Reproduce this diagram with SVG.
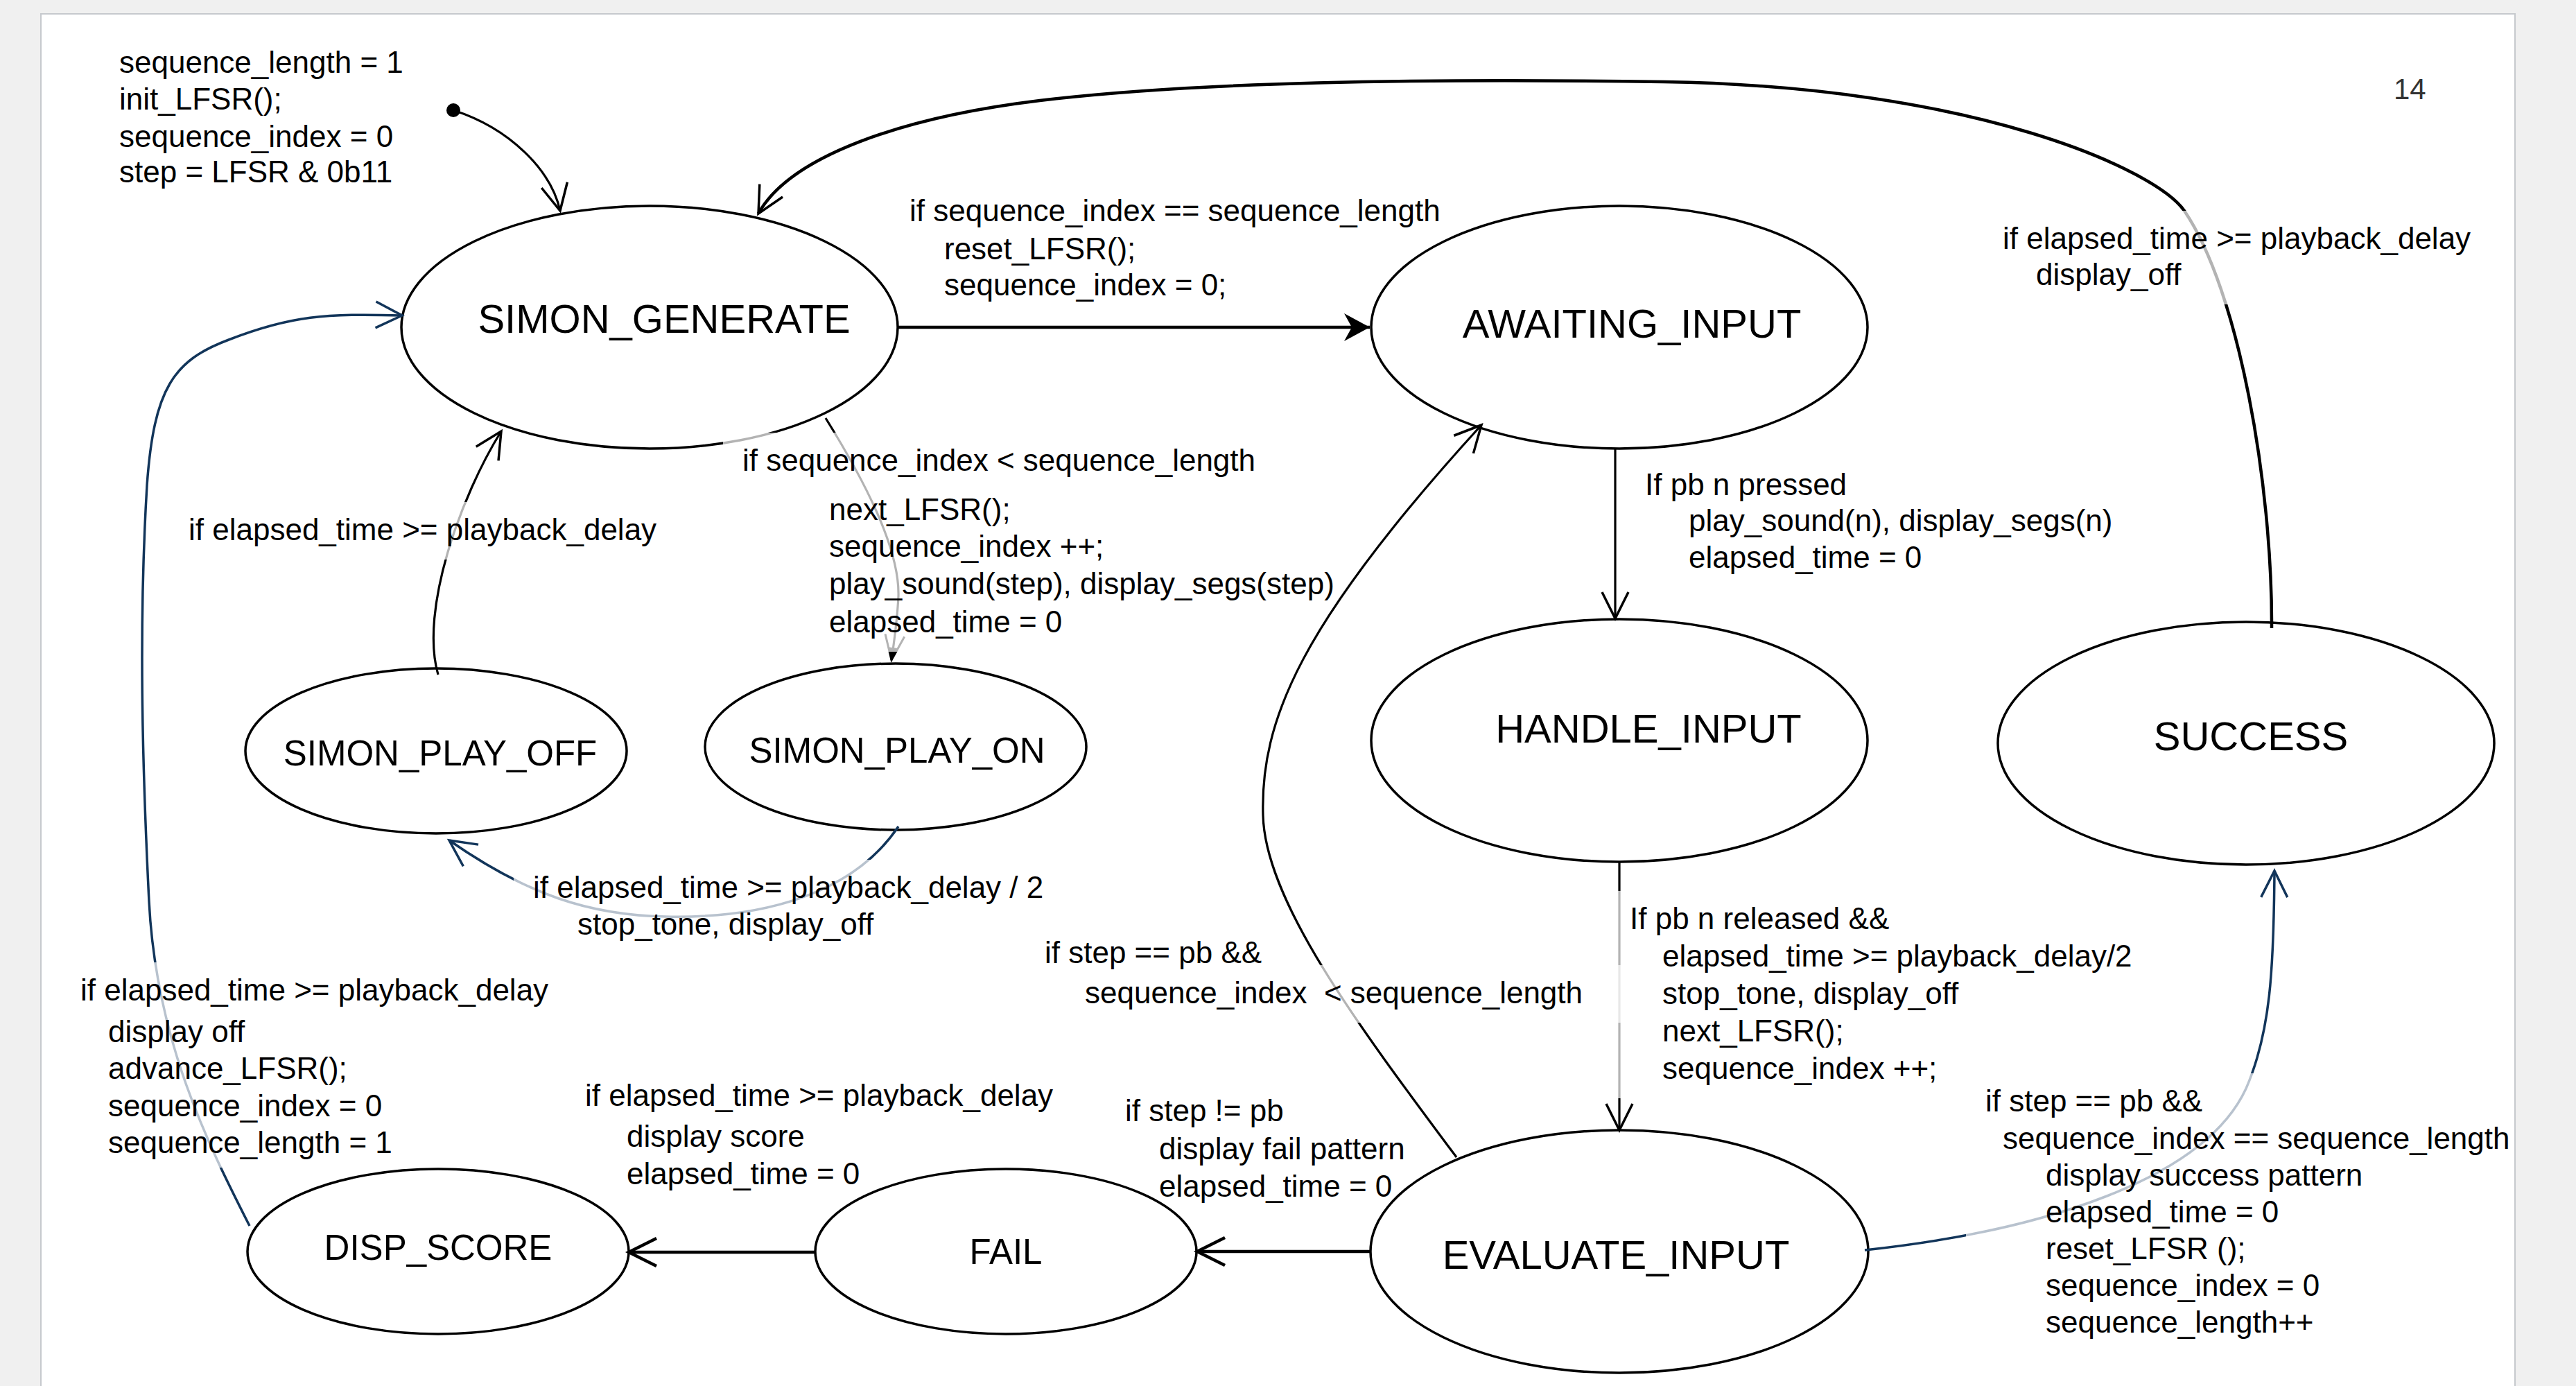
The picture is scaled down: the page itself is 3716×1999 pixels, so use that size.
<svg xmlns="http://www.w3.org/2000/svg" width="3716" height="1999" viewBox="0 0 3716 1999">
<defs>
<style>
.node{fill:#fff;stroke:#000;stroke-width:3.5}
.nt{font-family:"Liberation Sans",Arial,sans-serif;font-size:58px;fill:#000;text-anchor:middle}
.ns{font-family:"Liberation Sans",Arial,sans-serif;font-size:51px;fill:#000;text-anchor:middle}
.lt{font-family:"Liberation Sans",Arial,sans-serif;font-size:44px;fill:#000}
.e{fill:none;stroke:#000;stroke-width:3.2}
.ek{fill:none;stroke:#000;stroke-width:4.5}
.en{fill:none;stroke:#12355a;stroke-width:3.5}
.lb{fill:#fff;fill-opacity:0.7}
</style>
<marker id="vb" markerUnits="userSpaceOnUse" markerWidth="60" markerHeight="60" refX="0" refY="0" orient="auto" overflow="visible">
<path d="M-38,-19 L0,0 L-38,19" fill="none" stroke="#000" stroke-width="3.5"/>
</marker>
<marker id="vk" markerUnits="userSpaceOnUse" markerWidth="60" markerHeight="60" refX="0" refY="0" orient="auto" overflow="visible">
<path d="M-40,-20 L0,0 L-40,20" fill="none" stroke="#000" stroke-width="4.5"/>
</marker>
<marker id="vn" markerUnits="userSpaceOnUse" markerWidth="60" markerHeight="60" refX="0" refY="0" orient="auto" overflow="visible">
<path d="M-38,-19 L0,0 L-38,19" fill="none" stroke="#12355a" stroke-width="3.5"/>
</marker>
<marker id="fb" markerUnits="userSpaceOnUse" markerWidth="60" markerHeight="60" refX="0" refY="0" orient="auto" overflow="visible">
<path d="M0,0 L-37,-20 L-26,0 L-37,20 Z" fill="#000"/>
</marker>
<marker id="tb" markerUnits="userSpaceOnUse" markerWidth="60" markerHeight="60" refX="0" refY="0" orient="auto" overflow="visible">
<path d="M0,0 L-18,-7 L-18,7 Z" fill="#000"/>
<path d="M-36,-14 L0,0 L-36,14" fill="none" stroke="#000" stroke-width="3"/>
</marker>
</defs>
<rect x="0" y="0" width="3716" height="1999" fill="#f0f0f0"/>
<rect x="59" y="20" width="3569" height="2010" fill="#fff" stroke="#c6c9cd" stroke-width="2"/>

<g id="SIMON_GENERATE"><ellipse class="node" cx="937" cy="472" rx="358" ry="175"/><text class="nt" x="958" y="480">SIMON_GENERATE</text></g>
<g id="AWAITING_INPUT"><ellipse class="node" cx="2336" cy="472" rx="358" ry="175"/><text class="nt" x="2354" y="487">AWAITING_INPUT</text></g>
<g id="HANDLE_INPUT"><ellipse class="node" cx="2336" cy="1068" rx="358" ry="175"/><text class="nt" x="2378" y="1071">HANDLE_INPUT</text></g>
<g id="SUCCESS"><ellipse class="node" cx="3240" cy="1072" rx="358" ry="175"/><text class="nt" x="3247" y="1082">SUCCESS</text></g>
<g id="SIMON_PLAY_OFF"><ellipse class="node" cx="629" cy="1083" rx="275" ry="119"/><text class="ns" x="635" y="1104">SIMON_PLAY_OFF</text></g>
<g id="SIMON_PLAY_ON"><ellipse class="node" cx="1292" cy="1077" rx="275" ry="120"/><text class="ns" x="1294" y="1100">SIMON_PLAY_ON</text></g>
<g id="DISP_SCORE"><ellipse class="node" cx="632" cy="1805" rx="275" ry="119"/><text class="ns" x="632" y="1817">DISP_SCORE</text></g>
<g id="FAIL"><ellipse class="node" cx="1451" cy="1805" rx="275" ry="119"/><text class="ns" x="1451" y="1823">FAIL</text></g>
<g id="EVALUATE_INPUT"><ellipse class="node" cx="2336" cy="1805" rx="359" ry="175"/><text class="nt" x="2331" y="1830">EVALUATE_INPUT</text></g>

<g id="connectors">
<circle cx="654" cy="159" r="10" fill="#000"/>
<path class="e" d="M654 159 C735 185 795 245 808 304" marker-end="url(#vb)"/>
<path class="ek" d="M1295 472 L1976 472" marker-end="url(#fb)"/>
<path class="ek" d="M3277 906 C3278 700 3230 420 3151 304 C3110 245 2850 125 2400 118 C2000 112 1698 121 1500 145 C1302 169 1140 225 1094 308" marker-end="url(#vb)"/>
<path class="e" d="M1191 603 C1245 690 1298 790 1296 860 C1294 900 1289 930 1286 952" marker-end="url(#tb)"/>
<path class="e" d="M632 973 C605 880 665 715 723 622" marker-end="url(#vb)"/>
<path class="en" d="M1296 1192 C1230 1290 1100 1325 960 1322 C850 1320 760 1290 648 1212" marker-end="url(#vn)"/>
<path class="en" d="M360 1768 C300 1650 225 1500 215 1300 C205 1100 200 900 212 700 C222 560 250 520 330 490 C420 455 470 452 580 455" marker-end="url(#vn)"/>
<path class="e" d="M2330 647 L2330 892" marker-end="url(#vb)"/>
<path class="e" d="M2336 1243 L2336 1630" marker-end="url(#vb)"/>
<path class="e" d="M2101 1669 C1960 1480 1825 1300 1822 1176 C1818 1040 1875 900 2137 613" marker-end="url(#vb)"/>
<path class="ek" d="M1976 1805 L1727 1805" marker-end="url(#vk)"/>
<path class="ek" d="M1177 1806 L907 1806" marker-end="url(#vk)"/>
<path class="en" d="M2690 1803 C2950 1775 3180 1700 3240 1570 C3275 1490 3280 1400 3281 1256" marker-end="url(#vn)"/>
</g>

<g id="label-init">
<text class="lt" x="172" y="105">sequence_length = 1</text>
<text class="lt" x="172" y="158">init_LFSR();</text>
<text class="lt" x="172" y="212">sequence_index = 0</text>
<text class="lt" x="172" y="263">step = LFSR &amp; 0b11</text>
</g>
<g id="label-gen-await">
<text class="lt" x="1312" y="319">if sequence_index == sequence_length</text>
<text class="lt" x="1362" y="374">reset_LFSR();</text>
<text class="lt" x="1362" y="426">sequence_index = 0;</text>
</g>
<g id="label-success-gen">
<rect class="lb" x="2861" y="304" width="731" height="135"/>
<text class="lt" x="2889" y="359">if elapsed_time &gt;= playback_delay</text>
<text class="lt" x="2937" y="411">display_off</text>
</g>
<g id="label-gen-playon">
<rect class="lb" x="1043" y="624" width="835" height="316"/>
<text class="lt" x="1071" y="679">if sequence_index &lt; sequence_length</text>
<text class="lt" x="1196" y="750">next_LFSR();</text>
<text class="lt" x="1196" y="803">sequence_index ++;</text>
<text class="lt" x="1196" y="857">play_sound(step), display_segs(step)</text>
<text class="lt" x="1196" y="912">elapsed_time = 0</text>
</g>
<g id="label-playoff-gen">
<rect class="lb" x="244" y="724" width="731" height="83"/>
<text class="lt" x="272" y="779">if elapsed_time &gt;= playback_delay</text>
</g>
<g id="label-await-handle">
<text class="lt" x="2373" y="714">If pb n pressed</text>
<text class="lt" x="2436" y="766">play_sound(n), display_segs(n)</text>
<text class="lt" x="2436" y="819">elapsed_time = 0</text>
</g>
<g id="label-playon-playoff">
<rect class="lb" x="741" y="1240" width="792" height="136"/>
<text class="lt" x="769" y="1295">if elapsed_time &gt;= playback_delay / 2</text>
<text class="lt" x="833" y="1348">stop_tone, display_off</text>
</g>
<g id="label-score-gen">
<rect class="lb" x="88" y="1388" width="731" height="296"/>
<text class="lt" x="116" y="1443">if elapsed_time &gt;= playback_delay</text>
<text class="lt" x="156" y="1503">display off</text>
<text class="lt" x="156" y="1556">advance_LFSR();</text>
<text class="lt" x="156" y="1610">sequence_index = 0</text>
<text class="lt" x="156" y="1663">sequence_length = 1</text>
</g>
<g id="label-fail-score">
<text class="lt" x="844" y="1595">if elapsed_time &gt;= playback_delay</text>
<text class="lt" x="904" y="1654">display score</text>
<text class="lt" x="904" y="1708">elapsed_time = 0</text>
</g>
<g id="label-eval-await">
<rect class="lb" x="1537" y="1392" width="808" height="83"/>
<text class="lt" x="1507" y="1389">if step == pb &amp;&amp;</text>
<text class="lt" x="1565" y="1447" xml:space="preserve">sequence_index  &lt; sequence_length</text>
</g>
<g id="label-handle-eval">
<rect class="lb" x="2323" y="1285" width="780" height="299"/>
<text class="lt" x="2351" y="1340">If pb n released &amp;&amp;</text>
<text class="lt" x="2398" y="1394">elapsed_time &gt;= playback_delay/2</text>
<text class="lt" x="2398" y="1448">stop_tone, display_off</text>
<text class="lt" x="2398" y="1502">next_LFSR();</text>
<text class="lt" x="2398" y="1556">sequence_index ++;</text>
</g>
<g id="label-eval-fail">
<text class="lt" x="1623" y="1617">if step != pb</text>
<text class="lt" x="1672" y="1672">display fail pattern</text>
<text class="lt" x="1672" y="1726">elapsed_time = 0</text>
</g>
<g id="label-eval-success">
<rect class="lb" x="2836" y="1548" width="790" height="402"/>
<text class="lt" x="2864" y="1603">if step == pb &amp;&amp;</text>
<text class="lt" x="2889" y="1657">sequence_index == sequence_length</text>
<text class="lt" x="2951" y="1710">display success pattern</text>
<text class="lt" x="2951" y="1763">elapsed_time = 0</text>
<text class="lt" x="2951" y="1816">reset_LFSR ();</text>
<text class="lt" x="2951" y="1869">sequence_index = 0</text>
<text class="lt" x="2951" y="1922">sequence_length++</text>
</g>
<text x="3453" y="143" font-family="Liberation Sans, Arial, sans-serif" font-size="42" fill="#333">14</text>
</svg>
